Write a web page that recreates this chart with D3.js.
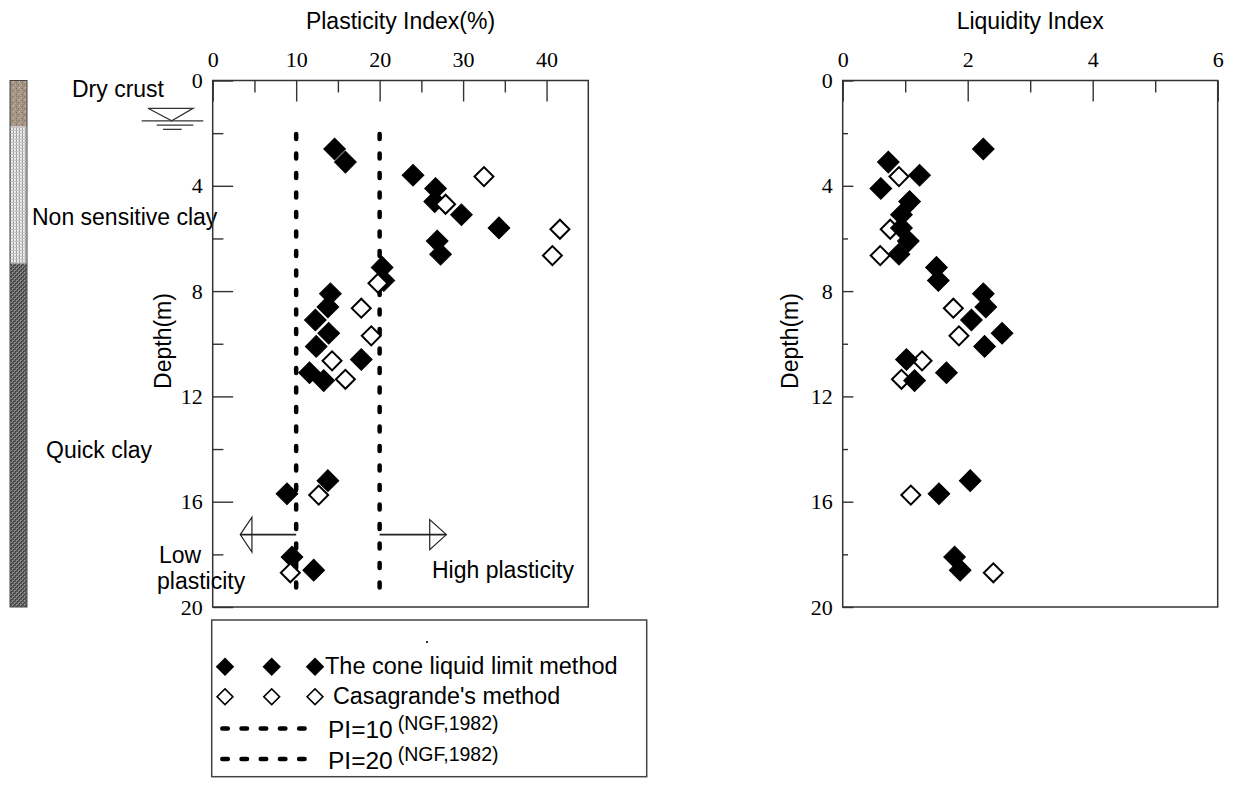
<!DOCTYPE html>
<html>
<head>
<meta charset="utf-8">
<script src="https://cdn.jsdelivr.net/npm/d3@7"></script>
<style>
  html, body { margin: 0; padding: 0; background: #fff; }
  svg { display: block; }
  .sans { font-family: "Liberation Sans", Arial, sans-serif; fill: #000; }
  .serif { font-family: "Liberation Serif", "Times New Roman", serif; fill: #000; }
</style>
</head>
<body>
<svg id="chart" width="1234" height="785"></svg>
<script>
// Sampling depths (m) for the cone liquid limit method
const depthCone = [2.6, 3.1, 3.6, 4.1, 4.6, 5.1, 5.6, 6.1, 6.6, 7.1, 7.6, 8.1, 8.6, 9.1, 9.6, 10.1, 10.6, 11.1, 11.4, 15.2, 15.7, 18.1, 18.6];
// Plasticity index (%) from the cone method
const piCone = [14.6, 15.9, 24.0, 26.7, 26.6, 29.8, 34.3, 26.9, 27.3, 20.3, 20.5, 14.1, 13.8, 12.3, 13.9, 12.4, 17.8, 11.6, 13.3, 13.8, 8.9, 9.5, 12.1];
// Liquidity index from the cone method
const liCone = [2.25, 0.73, 1.23, 0.61, 1.07, 0.94, 0.94, 1.05, 0.9, 1.5, 1.53, 2.25, 2.29, 2.06, 2.55, 2.27, 1.02, 1.66, 1.15, 2.04, 1.54, 1.79, 1.88];

// Sampling depths (m) for Casagrande's method
const depthCasa = [3.65, 4.7, 5.65, 6.65, 7.7, 8.65, 9.7, 10.65, 11.35, 15.75, 18.7];
const piCasa = [32.5, 27.9, 41.6, 40.7, 19.8, 17.8, 19.0, 14.3, 15.9, 12.7, 9.3];
const liCasa = [0.9, null, 0.76, 0.6, null, 1.77, 1.86, 1.27, 0.94, 1.09, 2.41];

// Soil profile
const layerNames = ["Dry crust", "Non sensitive clay", "Quick clay"];
const layerTop = [0, 1.75, 6.95];
const layerBottom = [1.75, 6.95, 20];

// Reference plasticity limits (NGF, 1982)
const plasticityLimits = [10, 20];

// Axis ticks
const piMajorTicks = [0, 10, 20, 30, 40];
const piMinorTicks = [5, 15, 25, 35];
const liMajorTicks = [0, 2, 4, 6];
const liMinorTicks = [1, 3, 5];
const depthMajorTicks = [0, 4, 8, 12, 16, 20];
const depthMinorTicks = [2, 6, 10, 14, 18];

const svg = d3.select("#chart");
const AXIS = "#333";
const FS = 23;

// ---------- scales ----------
const y = d3.scaleLinear().domain([0, 20]).range([80.5, 607]);
const xPI = d3.scaleLinear().domain([0, 45]).range([212.7, 588.3]);
const xLI = d3.scaleLinear().domain([0, 6]).range([842.7, 1217.7]);

// ---------- patterns for the soil column ----------
const defs = svg.append("defs");
const pCrust = defs.append("pattern").attr("id", "crust").attr("patternUnits", "userSpaceOnUse").attr("width", 6).attr("height", 6);
pCrust.append("rect").attr("width", 6).attr("height", 6).attr("fill", "#a39383");
[[0,0,"#857464"],[3,1,"#c4b8aa"],[1,3,"#d2c8bc"],[4,4,"#7a6a5b"],[2,5,"#b4a697"],[5,2,"#928272"],[0,4,"#bcae9f"],[4,0,"#8f7f6f"]].forEach(([a,b,c]) =>
  pCrust.append("rect").attr("x", a).attr("y", b).attr("width", 1).attr("height", 1).attr("fill", c));

const pSoft = defs.append("pattern").attr("id", "soft").attr("patternUnits", "userSpaceOnUse").attr("width", 3).attr("height", 3);
pSoft.append("rect").attr("width", 3).attr("height", 3).attr("fill", "#e6e6e6");
pSoft.append("rect").attr("x", 1).attr("width", 1).attr("height", 3).attr("fill", "#9a9a9a");
pSoft.append("rect").attr("x", 0).attr("y", 1).attr("width", 3).attr("height", 1).attr("fill", "#c4c4c4");
pSoft.append("rect").attr("x", 2).attr("y", 2).attr("width", 1).attr("height", 1).attr("fill", "#fafafa");

const pQuick = defs.append("pattern").attr("id", "quick").attr("patternUnits", "userSpaceOnUse").attr("width", 4).attr("height", 4);
pQuick.append("rect").attr("width", 4).attr("height", 4).attr("fill", "#555");
pQuick.append("rect").attr("x", 0).attr("y", 0).attr("width", 2).attr("height", 2).attr("fill", "#8a8a8a");
pQuick.append("rect").attr("x", 2).attr("y", 2).attr("width", 2).attr("height", 2).attr("fill", "#8a8a8a");
pQuick.append("rect").attr("x", 1).attr("y", 1).attr("width", 1).attr("height", 1).attr("fill", "#383838");
pQuick.append("rect").attr("x", 3).attr("y", 3).attr("width", 1).attr("height", 1).attr("fill", "#383838");

// ---------- soil column ----------
const fills = ["url(#crust)", "url(#soft)", "url(#quick)"];
const column = svg.append("g");
layerNames.forEach((name, i) => {
  column.append("rect")
    .attr("x", 10).attr("width", 17)
    .attr("y", y(layerTop[i])).attr("height", y(layerBottom[i]) - y(layerTop[i]))
    .attr("fill", fills[i]);
});
column.append("rect").attr("x", 10).attr("width", 17).attr("y", y(0)).attr("height", y(20) - y(0))
  .attr("fill", "none").attr("stroke", "#444").attr("stroke-width", 1);

// layer labels
const layerLabelPos = [[72, 97], [32, 225], [46, 458]];
layerNames.forEach((name, i) => {
  svg.append("text").attr("class", "sans").attr("x", layerLabelPos[i][0]).attr("y", layerLabelPos[i][1])
    .attr("font-size", FS).text(name);
});

// ground water level symbol
const gwY = y(1.53);
const gw = svg.append("g").attr("stroke", "#333").attr("fill", "none").attr("stroke-width", 1.3);
gw.append("path").attr("d", `M148,${gwY - 12.5} L193,${gwY - 12.5} L171.7,${gwY} Z`);
gw.append("line").attr("x1", 141.7).attr("x2", 203.3).attr("y1", gwY).attr("y2", gwY);
gw.append("line").attr("x1", 156.7).attr("x2", 193.3).attr("y1", gwY + 4.3).attr("y2", gwY + 4.3);
gw.append("line").attr("x1", 163).attr("x2", 181.7).attr("y1", gwY + 8.6).attr("y2", gwY + 8.6);

// ---------- axis helpers ----------
function styleAxis(g) {
  g.select(".domain").remove();
  g.selectAll(".tick line").attr("stroke", AXIS).attr("stroke-width", 1.4);
  g.selectAll("text").attr("class", "serif").attr("font-size", 22).attr("fill", "#000");
}

function drawPanel(x, majorX, minorX, yMajorLen, yMinorLen, title) {
  const g = svg.append("g");
  // frame
  g.append("rect").attr("x", x.range()[0]).attr("y", y.range()[0])
    .attr("width", x.range()[1] - x.range()[0]).attr("height", y.range()[1] - y.range()[0])
    .attr("fill", "none").attr("stroke", AXIS).attr("stroke-width", 1.5);

  // top axis (major + minor)
  g.append("g").attr("transform", `translate(0,${y.range()[0]})`)
    .call(d3.axisTop(x).tickValues(majorX).tickSizeInner(-21).tickSizeOuter(0).tickPadding(13.5).tickFormat(d3.format("d")))
    .call(styleAxis);
  g.append("g").attr("transform", `translate(0,${y.range()[0]})`)
    .call(d3.axisTop(x).tickValues(minorX).tickSizeInner(-12).tickSizeOuter(0).tickFormat(""))
    .call(styleAxis);

  // left depth axis (major + minor)
  g.append("g").attr("transform", `translate(${x.range()[0]},0)`)
    .call(d3.axisLeft(y).tickValues(depthMajorTicks).tickSizeInner(-yMajorLen).tickSizeOuter(0).tickPadding(10).tickFormat(d3.format("d")))
    .call(styleAxis);
  g.append("g").attr("transform", `translate(${x.range()[0]},0)`)
    .call(d3.axisLeft(y).tickValues(depthMinorTicks).tickSizeInner(-yMinorLen).tickSizeOuter(0).tickFormat(""))
    .call(styleAxis);

  // title
  const cx = (x.range()[0] + x.range()[1]) / 2;
  g.append("text").attr("class", "sans").attr("x", cx).attr("y", 29).attr("text-anchor", "middle")
    .attr("font-size", FS).text(title);
  return g;
}

const left = drawPanel(xPI, piMajorTicks, piMinorTicks, 20.5, 10.7, "Plasticity Index(%)");
const right = drawPanel(xLI, liMajorTicks, liMinorTicks, 10.7, 5.3, "Liquidity Index");

svg.append("text").attr("class", "sans").attr("font-size", FS).attr("text-anchor", "middle")
  .attr("transform", `translate(171,341) rotate(-90)`).text("Depth(m)");
svg.append("text").attr("class", "sans").attr("font-size", FS).attr("text-anchor", "middle")
  .attr("transform", `translate(798,341) rotate(-90)`).text("Depth(m)");

// ---------- NGF plasticity limit lines ----------
left.selectAll(".pl").data(plasticityLimits).join("line")
  .attr("x1", d => xPI(d)).attr("x2", d => xPI(d))
  .attr("y1", y(1.95) + 2.25).attr("y2", y(19.8))
  .attr("stroke", "#000").attr("stroke-width", 4.5)
  .attr("stroke-linecap", "round").attr("stroke-dasharray", "5,14.5");

// plasticity arrows
const arrowDepth = 17.25;
const ay = y(arrowDepth);
const arrows = left.append("g").attr("stroke", "#222").attr("stroke-width", 1.2).attr("fill", "none");
arrows.append("line").attr("x1", xPI(10)).attr("x2", xPI(3.3)).attr("y1", ay).attr("y2", ay).attr("stroke-width", 1.8);
arrows.append("path").attr("d", `M${xPI(3.3)},${ay} L${xPI(4.7)},${ay - 17.5} L${xPI(4.7)},${ay + 17.5} Z`);
arrows.append("line").attr("x1", xPI(20)).attr("x2", xPI(28)).attr("y1", ay).attr("y2", ay).attr("stroke-width", 1.8);
arrows.append("path").attr("d", `M${xPI(28)},${ay} L${xPI(26)},${ay - 15} L${xPI(26)},${ay + 15} Z`);

svg.append("text").attr("class", "sans").attr("font-size", FS).attr("x", 159).attr("y", 563).text("Low");
svg.append("text").attr("class", "sans").attr("font-size", FS).attr("x", 157).attr("y", 589).text("plasticity");
svg.append("text").attr("class", "sans").attr("font-size", FS).attr("x", 432).attr("y", 578).text("High plasticity");

// ---------- markers ----------
const filledSym = d3.symbol(d3.symbolSquare, 235)();
const openSym = d3.symbol(d3.symbolSquare, 180)();

function plotSeries(g, x, depths, vals) {
  const pts = depths.map((d, i) => ({ d, v: vals[i] })).filter(p => p.v != null);
  return g.append("g").selectAll("path").data(pts).join("path")
    .attr("transform", p => `translate(${x(p.v)},${y(p.d)}) rotate(45)`);
}

plotSeries(left, xPI, depthCone, piCone).attr("d", filledSym).attr("fill", "#000").attr("stroke", "#000").attr("stroke-width", 1);
plotSeries(left, xPI, depthCasa, piCasa).attr("d", openSym).attr("fill", "#fff").attr("stroke", "#000").attr("stroke-width", 2);
plotSeries(right, xLI, depthCasa, liCasa).attr("d", openSym).attr("fill", "#fff").attr("stroke", "#000").attr("stroke-width", 2);
plotSeries(right, xLI, depthCone, liCone).attr("d", filledSym).attr("fill", "#000").attr("stroke", "#000").attr("stroke-width", 1);

// ---------- legend ----------
const lg = svg.append("g");
lg.append("rect").attr("x", 211.7).attr("y", 620).attr("width", 435).attr("height", 156.7)
  .attr("fill", "#fff").attr("stroke", "#444").attr("stroke-width", 1.5);
lg.append("circle").attr("cx", 427).attr("cy", 642).attr("r", 1.1).attr("fill", "#000");

const legendMarkX = [225, 271.7, 315];
const legendSymF = d3.symbol(d3.symbolSquare, 170)();
const legendSymO = d3.symbol(d3.symbolSquare, 125)();
legendMarkX.forEach(mx => {
  lg.append("path").attr("d", legendSymF).attr("transform", `translate(${mx},666.7) rotate(45)`).attr("fill", "#000");
  lg.append("path").attr("d", legendSymO).attr("transform", `translate(${mx},696.7) rotate(45)`)
    .attr("fill", "#fff").attr("stroke", "#000").attr("stroke-width", 1.6);
});
lg.append("text").attr("class", "sans").attr("font-size", 23.5).attr("x", 325).attr("y", 674).text("The cone liquid limit method");
lg.append("text").attr("class", "sans").attr("font-size", 23.3).attr("x", 333).attr("y", 704).text("Casagrande's method");

plasticityLimits.forEach((v, i) => {
  const ly = 728.5 + i * 30.5;
  lg.append("line").attr("x1", 222.3).attr("x2", 304.6).attr("y1", ly).attr("y2", ly)
    .attr("stroke", "#000").attr("stroke-width", 4.5).attr("stroke-linecap", "round").attr("stroke-dasharray", "5.5,13.7");
  const t = lg.append("text").attr("class", "sans").attr("x", 328).attr("y", ly + 9.5);
  t.append("tspan").attr("font-size", 24.5).text(`PI=${v}`);
  t.append("tspan").attr("font-size", 19.5).attr("dx", 5).attr("dy", -8).text("(NGF,1982)");
});
</script>
</body>
</html>
